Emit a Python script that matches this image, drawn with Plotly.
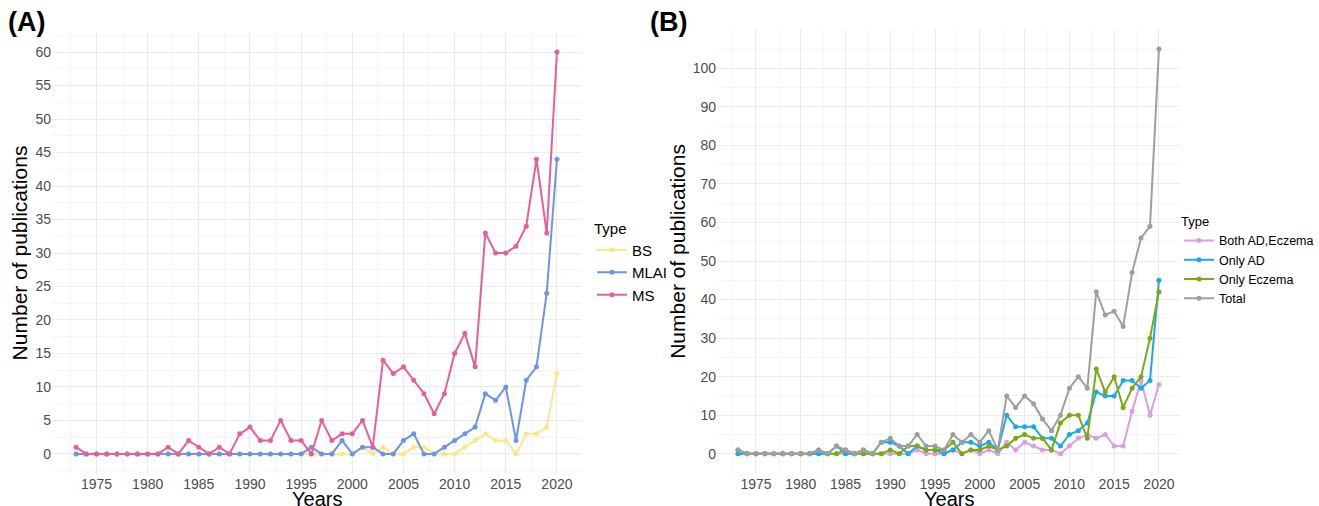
import plotly.graph_objects as go

years = [1973, 1974, 1975, 1976, 1977, 1978, 1979, 1980, 1981, 1982,
         1983, 1984, 1985, 1986, 1987, 1988, 1989, 1990, 1991, 1992,
         1993, 1994, 1995, 1996, 1997, 1998, 1999, 2000, 2001, 2002,
         2003, 2004, 2005, 2006, 2007, 2008, 2009, 2010, 2011, 2012,
         2013, 2014, 2015, 2016, 2017, 2018, 2019, 2020]

# Panel A
a_bs = [0, 0, 0, 0, 0, 0, 0, 0, 0,
        0, 0, 0, 0, 0, 0, 0, 0, 0, 0,
        0, 0, 0, 0, 0, 0, 0, 0, 0, 1,
        0, 1, 0, 0, 1, 1, 0, 0, 0, 1,
        2, 3, 2, 2, 0, 3, 3, 4, 12]
a_mlai = [0, 0, 0, 0, 0, 0, 0, 0, 0,
          0, 0, 0, 0, 0, 0, 0, 0, 0, 0,
          0, 0, 0, 0, 1, 0, 0, 2, 0, 1,
          1, 0, 0, 2, 3, 0, 0, 1, 2, 3,
          4, 9, 8, 10, 2, 11, 13, 24, 44]
a_ms = [1, 0, 0, 0, 0, 0, 0, 0, 0,
        1, 0, 2, 1, 0, 1, 0, 3, 4, 2,
        2, 5, 2, 2, 0, 5, 2, 3, 3, 5,
        1, 14, 12, 13, 11, 9, 6, 9, 15, 18,
        13, 33, 30, 30, 31, 34, 44, 33, 60]

# Panel B
b_both = [0, 0, 0, 0, 0, 0, 0, 0, 0,
          0, 0, 0, 0, 0, 0, 0, 0, 0, 0,
          0, 1, 0, 0, 0, 1, 0, 1, 0, 1,
          0, 3, 1, 3, 2, 1, 1, 0, 2, 4,
          5, 4, 5, 2, 2, 11, 19, 10, 18]
b_ad = [0, 0, 0, 0, 0, 0, 0, 0, 0,
        0, 0, 2, 0, 0, 1, 0, 3, 3, 2,
        0, 2, 1, 1, 0, 1, 3, 3, 2, 3,
        1, 10, 7, 7, 7, 4, 4, 2, 5, 6,
        8, 16, 15, 15, 19, 19, 17, 19, 45]
b_ecz = [1, 0, 0, 0, 0, 0, 0, 0, 0,
         1, 0, 0, 1, 0, 0, 0, 0, 1, 0,
         2, 2, 1, 1, 1, 3, 0, 1, 1, 2,
         1, 2, 4, 5, 4, 4, 1, 8, 10, 10,
         4, 22, 16, 20, 12, 17, 20, 30, 42]
b_total = [1, 0, 0, 0, 0, 0, 0, 0, 0,
           1, 0, 2, 1, 0, 1, 0, 3, 4, 2,
           2, 5, 2, 2, 1, 5, 3, 5, 3, 6,
           1, 15, 12, 15, 13, 9, 6, 10, 17, 20,
           17, 42, 36, 37, 33, 47, 56, 59, 105]

a_series = [("BS", a_bs, "#F9E78A"), ("MLAI", a_mlai, "#6E94E6"), ("MS", a_ms, "#E5609A")]
b_series = [("Both AD,Eczema", b_both, "#D99FE0"), ("Only AD", b_ad, "#1DA8EE"),
            ("Only Eczema", b_ecz, "#79AA14"), ("Total", b_total, "#9E9E9E")]

FONT = "Liberation Sans, Arial, Helvetica, sans-serif"
fig = go.Figure()

for name, vals, col in a_series:
    fig.add_trace(go.Scatter(x=years, y=vals, name=name, mode="lines+markers",
                             line=dict(color=col, width=2), marker=dict(color=col, size=5),
                             xaxis="x", yaxis="y", legend="legend"))
for name, vals, col in b_series:
    fig.add_trace(go.Scatter(x=years, y=vals, name=name, mode="lines+markers",
                             line=dict(color=col, width=2), marker=dict(color=col, size=5),
                             xaxis="x2", yaxis="y2", legend="legend2"))

W, H = 1319, 506
ML, MR, MT, MB = 52, 139, 28, 32
pw = W - ML - MR
ph = H - MT - MB

def fx(px):
    return (px - ML) / pw

def fy(py):
    return (H - MB - py) / ph

grid = "#EBEBEB"
minor_grid = "#F4F4F4"
tickfont = dict(family=FONT, size=14, color="#4D4D4D")
titlefont = dict(family=FONT, size=21, color="#000000")
xtitlefont = dict(family=FONT, size=20, color="#000000")

xticks = [1975, 1980, 1985, 1990, 1995, 2000, 2005, 2010, 2015, 2020]
xminor = [1972.5, 1977.5, 1982.5, 1987.5, 1992.5, 1997.5, 2002.5, 2007.5, 2012.5, 2017.5, 2022.5]

common_x = dict(range=[1970.65, 2022.35], tickvals=xticks, showgrid=True, gridcolor=grid,
                gridwidth=1, zeroline=False, showline=False, ticks="", tickfont=tickfont,
                automargin=False,
                minor=dict(tickvals=xminor, showgrid=True, gridcolor=minor_grid, gridwidth=0.6))

fig.update_layout(
    width=W, height=H,
    margin=dict(l=ML, r=MR, t=MT, b=MB, autoexpand=False),
    paper_bgcolor="white", plot_bgcolor="white",
    font=dict(family=FONT),
    xaxis=dict(domain=[fx(52), fx(581)], anchor="y", **common_x),
    xaxis2=dict(domain=[fx(717), fx(1180)], anchor="y2", **common_x),
    yaxis=dict(domain=[0, fy(32)], anchor="x", range=[-3, 63], tickvals=list(range(0, 61, 5)),
               showgrid=True, gridcolor=grid, gridwidth=1, zeroline=False, showline=False,
               ticks="", tickfont=tickfont, automargin=False,
               minor=dict(tickvals=[-2.5 + 5 * i for i in range(14)], showgrid=True,
                          gridcolor=minor_grid, gridwidth=0.6),
               title=dict(text="Number of publications", font=titlefont, standoff=2)),
    yaxis2=dict(domain=[0, fy(28.8)], anchor="x2", range=[-5.25, 110.25],
                tickvals=list(range(0, 101, 10)),
                showgrid=True, gridcolor=grid, gridwidth=1, zeroline=False, showline=False,
                ticks="", tickfont=tickfont, automargin=False,
                minor=dict(tickvals=[-5 + 10 * i for i in range(12)], showgrid=True,
                           gridcolor=minor_grid, gridwidth=0.6),
                title=dict(text="Number of publications", font=titlefont, standoff=1)),
    legend=dict(x=fx(592), y=fy(214), xanchor="left", yanchor="top",
                title=dict(text="Type", font=dict(family=FONT, size=15, color="#000")),
                font=dict(family=FONT, size=15, color="#000"), bgcolor="rgba(0,0,0,0)",
                itemwidth=30, tracegroupgap=0),
    legend2=dict(x=fx(1179), y=fy(209), xanchor="left", yanchor="top",
                 title=dict(text="Type", font=dict(family=FONT, size=13, color="#000")),
                 font=dict(family=FONT, size=12.5, color="#000"), bgcolor="rgba(0,0,0,0)",
                 itemwidth=30, tracegroupgap=0),
    annotations=[
        dict(text="<b>(A)</b>", x=6, y=22, showarrow=False,
             font=dict(family=FONT, size=27, color="#000"), xanchor="left", yanchor="middle"),
        dict(text="<b>(B)</b>", x=648, y=22, showarrow=False,
             font=dict(family=FONT, size=27, color="#000"), xanchor="left", yanchor="middle"),
        dict(text="Years", x=(52 + 581) / 2, y=499, showarrow=False,
             font=xtitlefont, xanchor="center", yanchor="middle"),
        dict(text="Years", x=(717 + 1180) / 2, y=499, showarrow=False,
             font=xtitlefont, xanchor="center", yanchor="middle"),
    ],
)

# convert annotation pixel positions to paper coords
for ann in fig.layout.annotations:
    ann.xref = "paper"
    ann.yref = "paper"
    ann.x = fx(ann.x)
    ann.y = fy(ann.y)

fig.write_html("out.html", config={"displayModeBar": False},
               post_script="document.body.style.margin='0';")
